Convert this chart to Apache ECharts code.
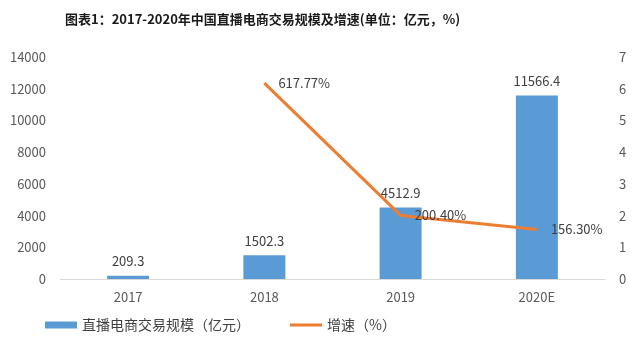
<!DOCTYPE html>
<html>
<head>
<meta charset="utf-8">
<script src="https://cdn.jsdelivr.net/npm/echarts@6/dist/echarts.min.js"></script>
<style>
  html, body { margin: 0; padding: 0; background: #fff; }
  #main { width: 640px; height: 351px; }
</style>
</head>
<body>
<div id="main"></div>
<script>
// 年份
const years = ['2017', '2018', '2019', '2020E'];
// 直播电商交易规模（亿元）
const scale = [209.3, 1502.3, 4512.9, 11566.4];
// 增速（%），右轴以倍数显示
const growth = [null, 617.77, 200.40, 156.30];
const growthLabels = ['', '617.77%', '200.40%', '156.30%'];

const chart = echarts.init(document.getElementById('main'));

const growthRatio = growth.map(v => v == null ? null : v / 100);

const option = {
  backgroundColor: '#fff',
  textStyle: { fontFamily: 'Noto Sans CJK SC' },
  title: {
    text: '图表1：2017-2020年中国直播电商交易规模及增速(单位：亿元，%)',
    left: 60,
    top: 8,
    textStyle: { fontSize: 13, fontWeight: 'bold', color: '#1a1a1a', fontFamily: 'Noto Sans CJK SC' }
  },
  grid: { left: 60, right: 35, top: 57, bottom: 72 },
  legend: {
    left: 40,
    bottom: 14,
    itemGap: 40,
    itemWidth: 32,
    itemHeight: 7,
    symbolKeepAspect: true,
    textStyle: { fontSize: 14, color: '#404040' },
    data: [
      { name: '直播电商交易规模（亿元）', icon: 'rect' },
      { name: '增速（%）', icon: 'path://M0,0H32V3H0Z' }
    ]
  },
  xAxis: {
    type: 'category',
    data: years,
    axisLine: { lineStyle: { color: '#d9d9d9' } },
    axisTick: { show: false },
    axisLabel: { color: '#595959', fontSize: 13, margin: 12 }
  },
  yAxis: [
    {
      type: 'value', min: 0, max: 14000, interval: 2000,
      splitLine: { show: false },
      axisLine: { show: false },
      axisLabel: { color: '#595959', fontSize: 13, margin: 14, formatter: v => String(v) }
    },
    {
      type: 'value', min: 0, max: 7, interval: 1,
      splitLine: { show: false },
      axisLine: { show: false },
      axisLabel: { color: '#595959', fontSize: 13, margin: 14 }
    }
  ],
  series: [
    {
      name: '直播电商交易规模（亿元）',
      type: 'bar',
      data: scale,
      barWidth: 42,
      itemStyle: { color: '#5b9bd5' },
      label: { show: true, position: 'top', color: '#404040', fontSize: 13, distance: 8 }
    },
    {
      name: '增速（%）',
      type: 'line',
      yAxisIndex: 1,
      data: growthRatio,
      symbol: 'circle',
      symbolSize: 0,
      showSymbol: true,
      z: 5,
      lineStyle: { color: '#ed7d31', width: 3 },
      itemStyle: { color: '#ed7d31' },
      label: {
        show: true,
        position: 'right',
        distance: 14,
        color: '#404040',
        fontSize: 13,
        formatter: p => growthLabels[p.dataIndex]
      }
    }
  ]
};

chart.setOption(option);
</script>
</body>
</html>
